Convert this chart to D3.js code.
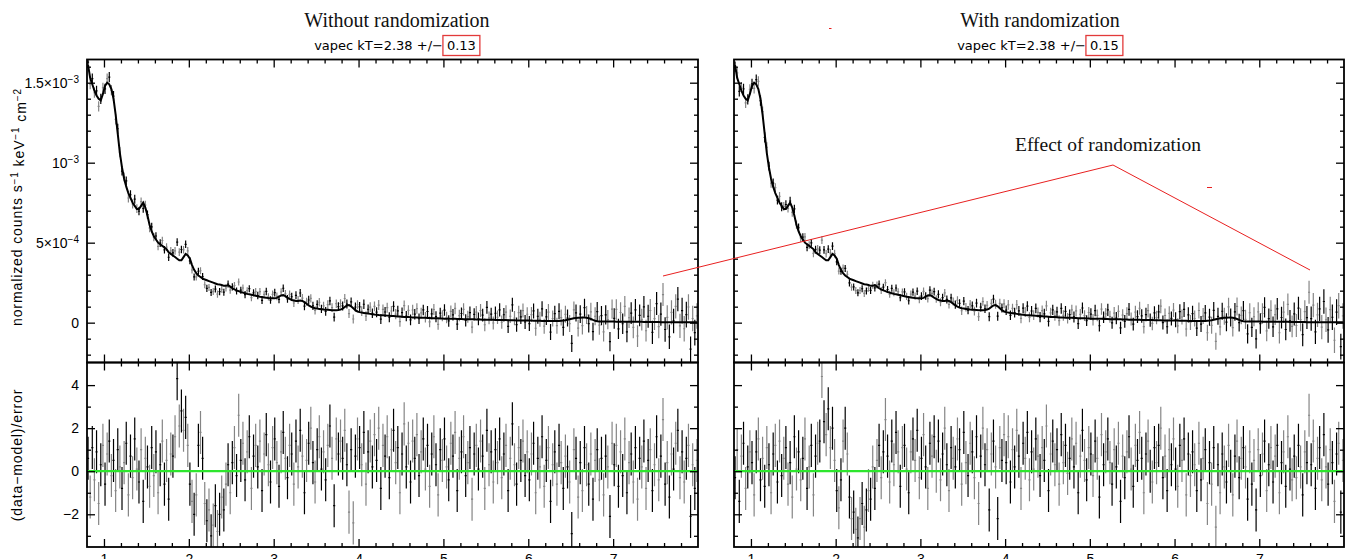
<!DOCTYPE html>
<html>
<head>
<meta charset="utf-8">
<script src="https://cdn.jsdelivr.net/npm/d3@7"></script>
<style>
  body { margin: 0; background: #fff; }
  svg { display: block; }
</style>
</head>
<body>
<svg id="chart" width="1347" height="559"></svg>
<script>
// ---- energy grid (keV) ----
const binStart = 0.8;
const binWidth = 0.025;
const binsPerErrorBand = 8;

// vapec model, normalized counts s^-1 keV^-1 cm^-2, in units of 1e-4, one value per bin
const modelFlux = [
  16.1,15.3,14.9,14.5,14.2,14.0,13.9,14.3,
  14.8,15.0,14.9,14.6,14.0,13.0,11.8,10.6,
  9.7,9.0,8.5,8.1,7.8,7.5,7.3,7.1,
  7.1,7.3,7.5,7.2,6.7,6.1,5.7,5.4,
  5.2,5.0,4.9,4.8,4.7,4.6,4.4,4.3,
  4.2,4.1,4.0,3.9,3.9,4.1,4.3,4.2,
  4.0,3.6,3.3,3.1,2.95,2.85,2.75,2.7,
  2.65,2.6,2.55,2.5,2.45,2.4,2.38,2.35,
  2.3,2.3,2.35,2.25,2.15,2.08,2.02,1.97,
  1.92,1.88,1.84,1.8,1.77,1.74,1.71,1.68,
  1.65,1.62,1.6,1.58,1.56,1.54,1.53,1.52,
  1.52,1.55,1.62,1.7,1.72,1.66,1.56,1.48,
  1.42,1.38,1.36,1.36,1.38,1.36,1.28,1.18,
  1.08,1.0,0.94,0.9,0.88,0.86,0.84,0.82,
  0.81,0.8,0.79,0.78,0.78,0.78,0.79,0.82,
  0.88,0.98,1.08,1.1,1.02,0.9,0.78,0.7,
  0.66,0.63,0.61,0.59,0.57,0.55,0.53,0.51,
  0.5,0.48,0.47,0.46,0.45,0.44,0.43,0.42,
  0.41,0.4,0.39,0.38,0.37,0.36,0.35,0.35,
  0.34,0.33,0.33,0.32,0.31,0.31,0.3,0.3,
  0.29,0.29,0.28,0.28,0.27,0.27,0.26,0.26,
  0.25,0.25,0.25,0.24,0.24,0.24,0.23,0.23,
  0.23,0.22,0.22,0.22,0.21,0.21,0.21,0.2,
  0.2,0.2,0.19,0.19,0.19,0.18,0.18,0.18,
  0.17,0.17,0.17,0.16,0.16,0.16,0.15,0.15,
  0.15,0.15,0.14,0.14,0.14,0.14,0.13,0.13,
  0.13,0.13,0.12,0.12,0.12,0.12,0.11,0.11,
  0.11,0.11,0.11,0.11,0.11,0.11,0.11,0.12,
  0.13,0.15,0.18,0.21,0.24,0.27,0.29,0.3,
  0.31,0.32,0.32,0.31,0.28,0.23,0.17,0.12,
  0.09,0.08,0.08,0.08,0.07,0.07,0.07,0.07,
  0.07,0.06,0.06,0.06,0.06,0.06,0.06,0.05,
  0.05,0.05,0.05,0.05,0.05,0.05,0.04,0.04,
  0.04,0.04,0.04,0.04,0.04,0.04,0.03,0.03,
  0.03,0.03,0.03,0.03,0.03,0.03,0.03,0.03,
  0.03,0.02,0.02,0.02,0.02,0.02,0.02,0.02
];

// 1-sigma flux errors (units of 1e-4), one per 0.2 keV band
const fluxErrorBands = [
  0.32,0.32,0.28,0.26,0.24,0.24,0.22,0.22,0.22,0.22,0.23,0.24,
  0.25,0.26,0.27,0.28,0.30,0.31,0.32,0.33,0.34,0.36,0.38,0.40,
  0.42,0.44,0.47,0.50,0.53,0.56,0.60,0.64,0.68,0.72,0.76,0.80
];

// (data-model)/error, fit without randomization
const residWithout = [
  0.6,-1.2,1.1,-0.4,0.9,-1.5,0.3,1.2,
  -0.6,0.8,1.4,-0.2,0.5,-0.9,1.0,0.2,
  -0.8,0.4,1.3,-1.1,0.7,-0.3,1.5,0.1,
  -0.5,1.0,-1.4,0.6,0.2,-0.7,1.1,-0.2,
  0.9,-1.0,0.3,1.4,-0.6,0.5,-1.3,0.8,
  0.7,1.6,4.3,2.1,2.8,1.9,2.5,1.2,
  -0.6,-1.4,-2.0,-1.1,1.2,1.8,0.6,-1.5,
  -2.3,-1.8,-3.0,-2.5,-1.6,-2.8,-2.0,-1.2,
  -1.8,-0.6,0.3,-1.0,0.4,1.1,-0.2,2.6,
  0.5,1.3,-0.4,0.9,1.6,-0.8,0.7,1.2,
  0.2,1.4,-0.9,0.8,1.7,0.3,-0.5,1.1,
  1.5,0.4,-0.7,0.9,1.8,0.6,-0.3,1.2,
  0.8,-0.6,1.4,0.2,1.9,0.7,-1.0,0.5,
  1.3,2.0,0.4,-0.5,1.0,1.6,0.1,0.9,
  -0.4,1.2,2.1,0.6,-1.6,1.5,0.8,1.4,
  0.6,1.9,0.3,-1.9,1.0,-2.4,0.7,1.5,
  1.1,0.3,1.8,-0.6,0.9,1.4,0.2,1.7,
  0.5,2.0,-0.8,1.2,0.7,1.6,-0.3,1.0,
  1.9,0.4,1.1,-1.0,0.8,2.2,0.2,1.3,
  -0.5,1.4,0.6,1.7,-0.2,0.9,1.5,0.1,
  1.2,-0.7,0.8,1.6,0.3,-1.1,1.0,0.5,
  1.5,0.2,-0.4,1.3,0.7,1.8,-0.9,0.6,
  0.9,1.6,-0.2,0.4,1.1,-1.3,0.8,1.2,
  0.1,1.4,0.7,-0.8,1.9,0.3,0.9,-0.5,
  1.0,0.4,1.5,-0.3,0.8,1.2,-0.9,0.6,
  2.2,0.3,-0.6,1.1,0.5,1.4,-0.2,0.9,
  -0.4,0.8,1.3,-1.0,0.6,0.2,1.6,-0.7,
  0.5,1.1,-1.4,0.3,0.9,-0.6,1.2,0.4,
  -0.8,0.7,0.2,-0.5,-2.9,1.0,0.6,-1.2,
  0.4,-0.9,1.1,0.3,-0.6,0.8,-1.3,0.5,
  1.0,-0.4,0.6,-1.1,0.7,0.2,-2.1,1.3,
  0.3,1.2,-0.7,0.9,-0.2,1.5,-1.0,0.4,
  0.8,-0.5,1.1,-1.3,0.6,0.2,1.4,-0.8,
  0.5,1.0,-0.9,0.3,1.6,-0.4,0.7,2.4,
  -0.6,0.4,-1.2,0.8,0.1,1.3,1.9,-0.3,
  0.9,-0.5,0.6,1.2,-2.1,0.3,-0.8,0.5
];

// (data-model)/error, fit with randomization
const residWith = [
  -0.3,1.0,-1.4,0.7,1.3,-0.8,0.2,0.9,
  0.4,-1.1,0.9,1.5,-0.4,0.6,-0.7,1.1,
  0.3,-1.0,0.8,1.2,-0.5,1.4,-0.2,0.6,
  1.1,-0.6,0.4,-1.2,1.6,0.1,0.9,-0.4,
  0.6,1.5,-0.8,0.2,1.2,-1.1,0.7,1.3,
  1.4,4.4,2.3,1.7,2.9,1.1,2.0,0.5,
  -0.9,-1.7,-0.4,1.4,2.0,0.8,-1.2,-2.2,
  -1.9,-2.7,-3.1,-2.2,-1.5,-2.6,-1.8,-0.9,
  -1.3,0.2,-0.8,0.5,1.2,-0.3,0.9,2.4,
  0.7,-0.5,1.4,0.3,1.8,0.9,-0.7,1.1,
  1.2,0.1,-1.0,0.9,1.5,0.5,1.9,-0.3,
  0.6,1.7,0.2,-0.8,1.3,0.7,1.6,0.0,
  1.4,-0.4,0.8,2.0,0.3,-0.9,1.1,0.6,
  0.2,1.5,1.0,-0.6,1.8,0.4,-0.2,1.3,
  0.9,-0.3,1.6,-1.5,0.7,2.0,0.3,1.0,
  -1.8,0.8,1.4,0.2,-2.2,1.1,0.5,1.7,
  0.4,1.6,-0.5,1.0,0.2,1.9,0.7,-0.8,
  1.3,0.6,1.8,-0.4,0.9,0.1,1.5,0.7,
  -0.2,1.1,0.5,2.1,-0.9,0.8,1.4,0.3,
  1.0,-0.6,1.7,0.4,1.2,-0.1,0.6,1.5,
  0.2,1.3,-1.0,0.7,1.9,0.5,-0.4,1.1,
  0.8,-0.2,1.4,0.6,-1.2,1.7,0.3,0.9,
  1.5,0.4,-0.6,1.0,0.2,1.3,-1.4,0.7,
  -0.3,0.9,1.6,0.1,-0.7,1.2,0.5,1.8,
  0.6,-1.0,0.8,1.4,0.0,-0.5,1.1,0.4,
  1.2,2.0,-0.3,0.7,-0.9,1.0,0.3,1.5,
  0.1,-0.7,1.2,0.5,1.5,-1.1,0.8,-0.2,
  0.9,0.3,-0.9,1.3,-0.4,0.6,1.0,-1.5,
  0.4,-0.6,1.1,-2.6,0.3,-1.0,0.8,0.2,
  -0.5,1.2,0.0,-1.1,0.7,1.4,-0.3,0.6,
  1.1,0.2,-1.3,0.9,-0.6,0.5,-1.8,1.0,
  -0.2,0.8,1.4,-0.9,0.3,1.1,-0.5,0.7,
  1.2,-1.0,0.4,0.9,-0.7,1.6,0.1,-0.4,
  0.7,-0.3,1.2,0.2,-1.1,0.9,0.4,2.6,
  0.3,1.4,-0.8,0.6,1.1,-0.4,1.7,0.2,
  -0.6,1.0,0.4,-1.4,0.8,1.3,-1.9,0.5
];

// axes
const energyDomain = [0.8, 8.0];
const fluxDomain = [-2.49e-4, 1.645e-3];
const residDomain = [-3.52, 5.05];
const energyMajorTicks = [1, 2, 3, 4, 5, 6, 7];
const energyMinorTicks = [1.2,1.4,1.6,1.8,2.2,2.4,2.6,2.8,3.2,3.4,3.6,3.8,4.2,4.4,4.6,4.8,
                          5.2,5.4,5.6,5.8,6.2,6.4,6.6,6.8,7.2,7.4,7.6,7.8];
const fluxMajorTicks = [0, 5e-4, 1e-3, 1.5e-3];
const fluxTickLabels = [["0", ""], ["5×10", "−4"], ["10", "−3"], ["1.5×10", "−3"]];
const fluxMinorTicks = [-2e-4,-1e-4,1e-4,2e-4,3e-4,4e-4,6e-4,7e-4,8e-4,9e-4,
                        1.1e-3,1.2e-3,1.3e-3,1.4e-3,1.6e-3];
const residMajorTicks = [-2, 0, 2, 4];
const residMinorTicks = [-3, -1, 1, 3];

const panelInfo = [
  { title: "Without randomization", kT: "2.38", kTerr: "0.13", resid: residWithout, showY: true },
  { title: "With randomization",    kT: "2.38", kTerr: "0.15", resid: residWith,    showY: false }
];

// ---- layout ----
const panelX = [[87, 698], [734, 1344]];
const yTop = 59.5, yMid = 362.5, yBot = 547;
const TICK = 8, MINOR = 4;
const sansFont = "'Liberation Sans', Arial, sans-serif";
const serifFont = "'Liberation Serif', 'Times New Roman', serif";

const svg = d3.select("#chart");
const energies = modelFlux.map((_, i) => binStart + binWidth * (i + 0.5));

function styleAxis(g) {
  g.select(".domain").remove();
  g.selectAll(".tick line").attr("stroke", "#000").attr("stroke-width", 1.3);
  g.selectAll(".tick text").attr("fill", "#000").attr("font-family", sansFont).attr("font-size", 14);
}

panelInfo.forEach((p, k) => {
  const [x0, x1] = panelX[k];
  const x = d3.scaleLinear().domain(energyDomain).range([x0, x1]);
  const yF = d3.scaleLinear().domain(fluxDomain).range([yMid, yTop]);
  const yR = d3.scaleLinear().domain(residDomain).range([yBot, yMid]);
  const g = svg.append("g");

  const defs = svg.append("defs");
  defs.append("clipPath").attr("id", "clipF" + k)
    .append("rect").attr("x", x0).attr("y", yTop).attr("width", x1 - x0).attr("height", yMid - yTop);
  defs.append("clipPath").attr("id", "clipR" + k)
    .append("rect").attr("x", x0).attr("y", yMid).attr("width", x1 - x0).attr("height", yBot - yMid);

  const pts = energies.map((e, i) => {
    const m = modelFlux[i] * 1e-4;
    const err = fluxErrorBands[Math.floor(i / binsPerErrorBand)] * 1e-4;
    const r = p.resid[i];
    return { e, m, err, r, v: m + r * err, i };
  });

  // data crosses in both panels, alternating shades
  const fluxLayer = g.append("g").attr("clip-path", `url(#clipF${k})`);
  const residLayer = g.append("g").attr("clip-path", `url(#clipR${k})`);
  [["#000", 0], ["#858585", 1]].forEach(([col, parity]) => {
    const sel = pts.filter(d => d.i % 2 === parity);
    const pf = d3.path();
    const pr = d3.path();
    sel.forEach(d => {
      const xa = x(d.e - binWidth / 2), xb = x(d.e + binWidth / 2), xc = x(d.e);
      pf.moveTo(xa, yF(d.v)); pf.lineTo(xb, yF(d.v));
      pf.moveTo(xc, yF(d.v - d.err)); pf.lineTo(xc, yF(d.v + d.err));
      pr.moveTo(xa, yR(d.r)); pr.lineTo(xb, yR(d.r));
      pr.moveTo(xc, yR(d.r - 1)); pr.lineTo(xc, yR(d.r + 1));
    });
    fluxLayer.append("path").attr("d", pf.toString()).attr("stroke", col).attr("stroke-width", 1.2).attr("fill", "none");
    residLayer.append("path").attr("d", pr.toString()).attr("stroke", col).attr("stroke-width", 1.2).attr("fill", "none");
  });

  // model curve
  fluxLayer.append("path")
    .datum(pts)
    .attr("d", d3.line().x(d => x(d.e)).y(d => yF(d.m)))
    .attr("fill", "none").attr("stroke", "#000").attr("stroke-width", 2);

  // zero line of the residuals
  residLayer.append("line")
    .attr("x1", x0).attr("x2", x1).attr("y1", yR(0)).attr("y2", yR(0))
    .attr("stroke", "#2ee62e").attr("stroke-width", 2.2);

  // frames
  [[yTop, yMid], [yMid, yBot]].forEach(([a, b]) => {
    g.append("rect").attr("x", x0).attr("y", a).attr("width", x1 - x0).attr("height", b - a)
      .attr("fill", "none").attr("stroke", "#000").attr("stroke-width", 1.8);
  });

  // x ticks on every horizontal edge
  const xEdges = [
    [yTop, d3.axisTop], [yMid, d3.axisBottom], [yMid, d3.axisTop], [yBot, d3.axisBottom]
  ];
  xEdges.forEach(([yy, mk], j) => {
    const isBottom = j === 3;
    g.append("g").attr("transform", `translate(0,${yy})`)
      .call(mk(x).tickValues(energyMajorTicks).tickSize(-TICK).tickPadding(7)
        .tickFormat(isBottom ? d3.format("d") : () => ""))
      .call(styleAxis);
    g.append("g").attr("transform", `translate(0,${yy})`)
      .call(mk(x).tickValues(energyMinorTicks).tickSize(-MINOR).tickFormat(() => ""))
      .call(styleAxis);
  });

  // y ticks, spectrum panel
  const leftF = g.append("g").attr("transform", `translate(${x0},0)`)
    .call(d3.axisLeft(yF).tickValues(fluxMajorTicks).tickSize(-TICK).tickPadding(8).tickFormat(() => ""))
    .call(styleAxis);
  if (p.showY) {
    leftF.selectAll(".tick text").each(function (d) {
      const lab = fluxTickLabels[fluxMajorTicks.indexOf(d)];
      const t = d3.select(this);
      t.append("tspan").text(lab[0]);
      if (lab[1]) t.append("tspan").attr("dy", "-0.5em").attr("font-size", 10).text(lab[1]);
    });
  }
  g.append("g").attr("transform", `translate(${x0},0)`)
    .call(d3.axisLeft(yF).tickValues(fluxMinorTicks).tickSize(-MINOR).tickFormat(() => "")).call(styleAxis);
  g.append("g").attr("transform", `translate(${x1},0)`)
    .call(d3.axisRight(yF).tickValues(fluxMajorTicks).tickSize(-TICK).tickFormat(() => "")).call(styleAxis);
  g.append("g").attr("transform", `translate(${x1},0)`)
    .call(d3.axisRight(yF).tickValues(fluxMinorTicks).tickSize(-MINOR).tickFormat(() => "")).call(styleAxis);

  // y ticks, residual panel
  g.append("g").attr("transform", `translate(${x0},0)`)
    .call(d3.axisLeft(yR).tickValues(residMajorTicks).tickSize(-TICK).tickPadding(8)
      .tickFormat(p.showY ? d3.format("d") : () => ""))
    .call(styleAxis);
  g.append("g").attr("transform", `translate(${x0},0)`)
    .call(d3.axisLeft(yR).tickValues(residMinorTicks).tickSize(-MINOR).tickFormat(() => "")).call(styleAxis);
  g.append("g").attr("transform", `translate(${x1},0)`)
    .call(d3.axisRight(yR).tickValues(residMajorTicks).tickSize(-TICK).tickFormat(() => "")).call(styleAxis);
  g.append("g").attr("transform", `translate(${x1},0)`)
    .call(d3.axisRight(yR).tickValues(residMinorTicks).tickSize(-MINOR).tickFormat(() => "")).call(styleAxis);

  // titles
  const cx = (x0 + x1) / 2 + (k === 0 ? 4.5 : 1);
  svg.append("text").attr("x", cx).attr("y", 27).attr("text-anchor", "middle")
    .attr("font-family", serifFont).attr("font-size", 20).attr("fill", "#111")
    .text(p.title);

  const sub = svg.append("g");
  const pre = sub.append("text").attr("y", 50)
    .attr("font-family", "'DejaVu Sans', sans-serif").attr("font-size", 13).attr("fill", "#000")
    .text(`vapec kT=${p.kT} +/− `);
  const val = sub.append("text").attr("y", 50)
    .attr("font-family", "'DejaVu Sans', sans-serif").attr("font-size", 13).attr("fill", "#000")
    .text(p.kTerr);
  const wPre = pre.node().getComputedTextLength();
  const wVal = val.node().getComputedTextLength();
  const pad = 4;
  const startX = cx - (wPre + wVal + 2 * pad) / 2;
  pre.attr("x", startX);
  val.attr("x", startX + wPre + pad);
  sub.append("rect")
    .attr("x", startX + wPre).attr("y", 35.5)
    .attr("width", wVal + 2 * pad).attr("height", 20)
    .attr("fill", "none").attr("stroke", "#e23a3a").attr("stroke-width", 1.3);
});

// axis titles
const yLab = svg.append("text")
  .attr("transform", "translate(22,207) rotate(-90)")
  .attr("text-anchor", "middle").attr("font-family", sansFont).attr("font-size", 14)
  .attr("letter-spacing", 0.9).attr("fill", "#000");
[["normalized counts s", 0], ["−1", 1], [" keV", 0], ["−1", 1], [" cm", 0], ["−2", 1]].forEach(([t, sup], i, arr) => {
  const prevSup = i > 0 && arr[i - 1][1];
  const ts = yLab.append("tspan").text(t);
  if (sup) ts.attr("dy", "-0.45em").attr("font-size", 10);
  else if (prevSup) ts.attr("dy", "0.45em");
});

svg.append("text")
  .attr("transform", "translate(22,455) rotate(-90)")
  .attr("text-anchor", "middle").attr("font-family", sansFont).attr("font-size", 14)
  .attr("letter-spacing", 0.9).attr("fill", "#000")
  .text("(data−model)/error");

// annotation
svg.append("text").attr("x", 1015).attr("y", 151)
  .attr("font-family", serifFont).attr("font-size", 19.5).attr("fill", "#111")
  .text("Effect of randomization");
svg.append("path")
  .attr("d", "M663,276 L1113,165 L1310,270")
  .attr("fill", "none").attr("stroke", "#e82020").attr("stroke-width", 1);
svg.append("path")
  .attr("d", "M829,28.5 H831.5 M1207,187.5 H1212")
  .attr("fill", "none").attr("stroke", "#e82020").attr("stroke-width", 1);
</script>
</body>
</html>
